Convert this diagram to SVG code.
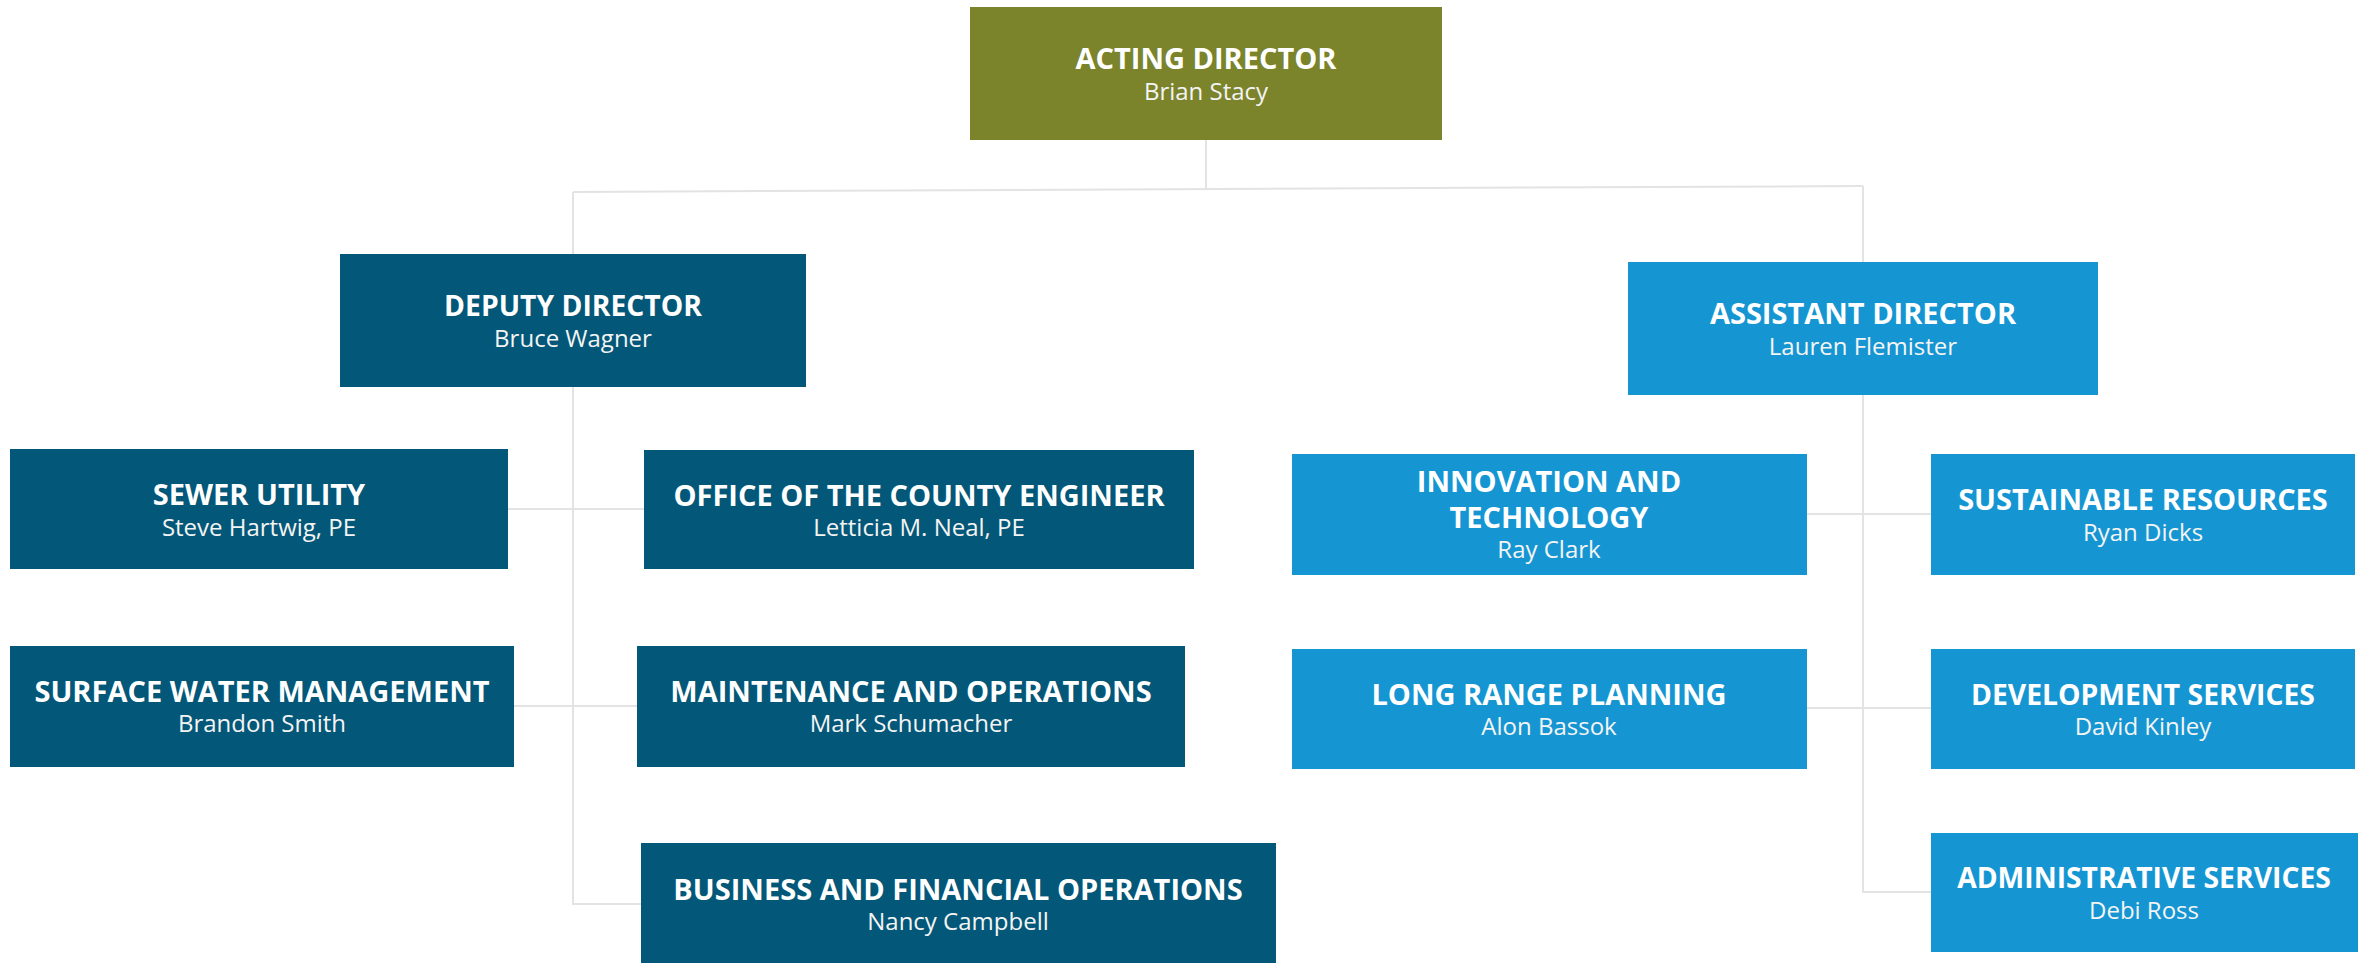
<svg xmlns="http://www.w3.org/2000/svg" width="2372" height="963" viewBox="0 0 2372 963">
<style>
.bg{fill:#ffffff}
.conn{stroke:#e3e3e3;stroke-width:2;fill:none}
.olive{fill:#7b832b}
.dark{fill:#035778}
.light{fill:#1596d3}
.t{font-family:"Open Sans","Liberation Sans",sans-serif;font-weight:700;font-size:29px;fill:#ffffff;text-anchor:middle}
.s{font-size:28.3px}
.n{font-family:"Open Sans","Liberation Sans",sans-serif;font-weight:400;font-size:24px;fill:#f4f4f4;text-anchor:middle}
</style>
<rect class="bg" x="0" y="0" width="2372" height="963"/>
<g id="connectors">
<line class="conn" x1="1206" y1="140" x2="1206" y2="189"/>
<line class="conn" x1="573" y1="192" x2="1863" y2="186"/>
<polyline class="conn" points="573,192 573,904 641,904"/>
<line class="conn" x1="508" y1="509" x2="644" y2="509"/>
<line class="conn" x1="514" y1="706" x2="637" y2="706"/>
<polyline class="conn" points="1863,186 1863,892 1931,892"/>
<line class="conn" x1="1807" y1="514" x2="1931" y2="514"/>
<line class="conn" x1="1807" y1="708" x2="1931" y2="708"/>
</g>
<g id="acting-director">
<rect class="olive" x="970" y="7" width="472" height="133"/>
<text class="t" x="1206" y="69">ACTING DIRECTOR</text>
<text class="n" x="1206" y="100">Brian Stacy</text>
</g>
<g id="deputy-director">
<rect class="dark" x="340" y="254" width="466" height="133"/>
<text class="t s" x="573" y="316">DEPUTY DIRECTOR</text>
<text class="n" x="573" y="347">Bruce Wagner</text>
</g>
<g id="assistant-director">
<rect class="light" x="1628" y="262" width="470" height="133"/>
<text class="t" x="1863" y="324">ASSISTANT DIRECTOR</text>
<text class="n" x="1863" y="355">Lauren Flemister</text>
</g>
<g id="sewer-utility">
<rect class="dark" x="10" y="449" width="498" height="120"/>
<text class="t" x="259" y="505">SEWER UTILITY</text>
<text class="n" x="259" y="536">Steve Hartwig, PE</text>
</g>
<g id="county-engineer">
<rect class="dark" x="644" y="450" width="550" height="119"/>
<text class="t" x="919" y="506">OFFICE OF THE COUNTY ENGINEER</text>
<text class="n" x="919" y="536">Letticia M. Neal, PE</text>
</g>
<g id="surface-water">
<rect class="dark" x="10" y="646" width="504" height="121"/>
<text class="t" x="262" y="702">SURFACE WATER MANAGEMENT</text>
<text class="n" x="262" y="732">Brandon Smith</text>
</g>
<g id="maintenance-operations">
<rect class="dark" x="637" y="646" width="548" height="121"/>
<text class="t" x="911" y="702">MAINTENANCE AND OPERATIONS</text>
<text class="n" x="911" y="732">Mark Schumacher</text>
</g>
<g id="business-financial">
<rect class="dark" x="641" y="843" width="635" height="120"/>
<text class="t" x="958" y="900">BUSINESS AND FINANCIAL OPERATIONS</text>
<text class="n" x="958" y="930">Nancy Campbell</text>
</g>
<g id="innovation-technology">
<rect class="light" x="1292" y="454" width="515" height="121"/>
<text class="t" x="1549" y="492">INNOVATION AND</text>
<text class="t" x="1549" y="528">TECHNOLOGY</text>
<text class="n" x="1549" y="558">Ray Clark</text>
</g>
<g id="long-range-planning">
<rect class="light" x="1292" y="649" width="515" height="120"/>
<text class="t" x="1549" y="705">LONG RANGE PLANNING</text>
<text class="n" x="1549" y="735">Alon Bassok</text>
</g>
<g id="sustainable-resources">
<rect class="light" x="1931" y="454" width="424" height="121"/>
<text class="t" x="2143" y="510">SUSTAINABLE RESOURCES</text>
<text class="n" x="2143" y="541">Ryan Dicks</text>
</g>
<g id="development-services">
<rect class="light" x="1931" y="649" width="424" height="120"/>
<text class="t s" x="2143" y="705">DEVELOPMENT SERVICES</text>
<text class="n" x="2143" y="735">David Kinley</text>
</g>
<g id="administrative-services">
<rect class="light" x="1931" y="833" width="427" height="119"/>
<text class="t s" x="2144" y="888">ADMINISTRATIVE SERVICES</text>
<text class="n" x="2144" y="919">Debi Ross</text>
</g>
</svg>
